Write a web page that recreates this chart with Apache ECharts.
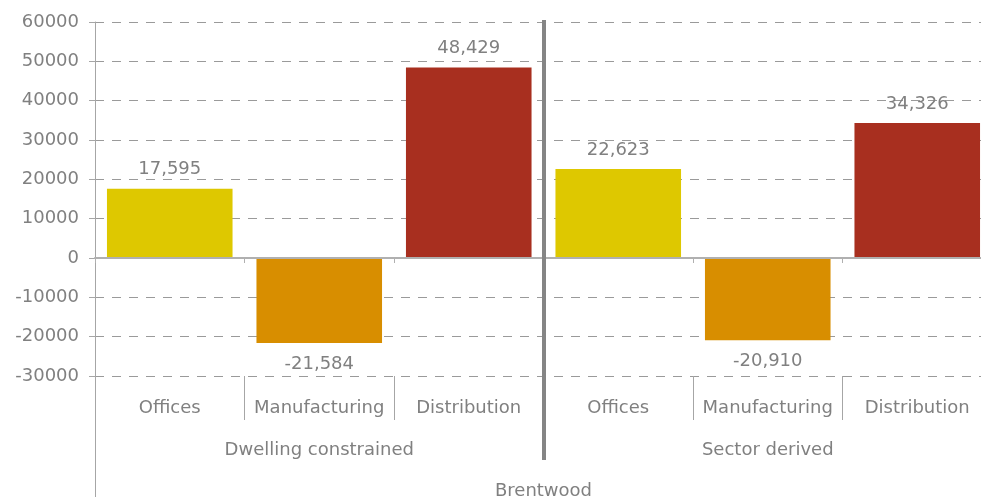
<!DOCTYPE html>
<html>
<head>
<meta charset="utf-8">
<title>Brentwood floorspace</title>
<script src="https://cdn.jsdelivr.net/npm/echarts@6/dist/echarts.min.js"></script>
<style>
  html, body { margin: 0; padding: 0; background: #ffffff; overflow: hidden; }
  #chart { width: 981px; height: 497px; }
</style>
</head>
<body>
<div id="chart"></div>
<script>
// Sectors shown under each scenario
const sectors = ['Offices', 'Manufacturing', 'Distribution'];
// Scenario groups
const scenarios = ['Dwelling constrained', 'Sector derived'];
// Area label
const area = ['Brentwood'];
// Values per scenario, in sector order
const dwellingConstrained = [17595, -21584, 48429];
const sectorDerived = [22623, -20910, 34326];
// Value axis ticks
const yTicks = [-30000, -20000, -10000, 0, 10000, 20000, 30000, 40000, 50000, 60000];

const categories = scenarios.flatMap(() => sectors);
const values = dwellingConstrained.concat(sectorDerived);
const sectorColors = ['#DEC800', '#D88E00', '#A82F1F'];

const FONT = 'DejaVu Sans';
const TEXT = '#808080';

const chart = echarts.init(document.getElementById('chart'), null, { renderer: 'canvas' });

chart.setOption({
  animation: false,
  // plot runs past the right edge of the canvas
  grid: {
    left: 95, width: 897, top: 22, height: 354,
    containLabel: false, outerBoundsMode: 'none'
  },
  xAxis: [
    {
      // axis carrying the bars, line drawn at zero
      type: 'category',
      data: categories,
      axisLine: { onZero: true, lineStyle: { color: '#b0b0b0', width: 2 } },
      axisTick: { show: true, length: 5, lineStyle: { color: '#b0b0b0' } },
      axisLabel: { show: false },
      z: 5
    },
    {
      // sector labels with dividers
      type: 'category',
      data: categories,
      position: 'bottom',
      axisLine: { show: false, onZero: false },
      axisTick: { show: true, length: 44, lineStyle: { color: '#a6a6a6', width: 1 } },
      axisLabel: { interval: 0, margin: 23, fontFamily: FONT, fontSize: 18, color: TEXT }
    },
    {
      // scenario labels
      type: 'category',
      data: scenarios,
      position: 'bottom',
      axisLine: { show: false, onZero: false },
      axisTick: { show: false },
      axisLabel: { interval: 0, margin: 65, fontFamily: FONT, fontSize: 18, color: TEXT }
    },
    {
      // area label, its left tick continues the value axis line downwards
      type: 'category',
      data: area,
      position: 'bottom',
      axisLine: { show: false, onZero: false },
      axisTick: { show: true, length: 125, lineStyle: { color: '#a6a6a6', width: 1 } },
      axisLabel: { interval: 0, margin: 106, fontFamily: FONT, fontSize: 18, color: TEXT }
    },
    {
      // heavy divider between the two scenarios
      type: 'category',
      data: ['', '', ''],
      boundaryGap: false,
      position: 'bottom',
      offset: 84,
      axisLine: { show: false, onZero: false },
      axisTick: {
        show: true, inside: true, length: 440,
        interval: (i) => i === 1,
        lineStyle: { color: '#858585', width: 4 }
      },
      axisLabel: { show: false },
      z: 10
    }
  ],
  yAxis: {
    type: 'value',
    min: yTicks[0],
    max: yTicks[yTicks.length - 1],
    interval: 10000,
    axisLine: { show: true, lineStyle: { color: '#a6a6a6', width: 1 } },
    axisTick: { show: true, length: 6, lineStyle: { color: '#a6a6a6' } },
    axisLabel: {
      margin: 16, fontFamily: FONT, fontSize: 18, color: TEXT,
      formatter: (v) => String(v)
    },
    splitLine: { show: true, lineStyle: { color: '#9a9a9a', width: 1, type: [9, 8] } }
  },
  series: [
    {
      type: 'bar',
      xAxisIndex: 0,
      barCategoryGap: '16%',
      data: values.map((v) => ({
        value: v,
        label: { position: v < 0 ? 'bottom' : 'top', distance: v < 0 ? 12 : 10 }
      })),
      itemStyle: { color: (p) => sectorColors[p.dataIndex % sectors.length] },
      label: {
        show: true,
        fontFamily: FONT,
        fontSize: 18,
        color: TEXT,
        formatter: (p) => p.value.toLocaleString('en-US')
      }
    }
  ]
});
</script>
</body>
</html>
